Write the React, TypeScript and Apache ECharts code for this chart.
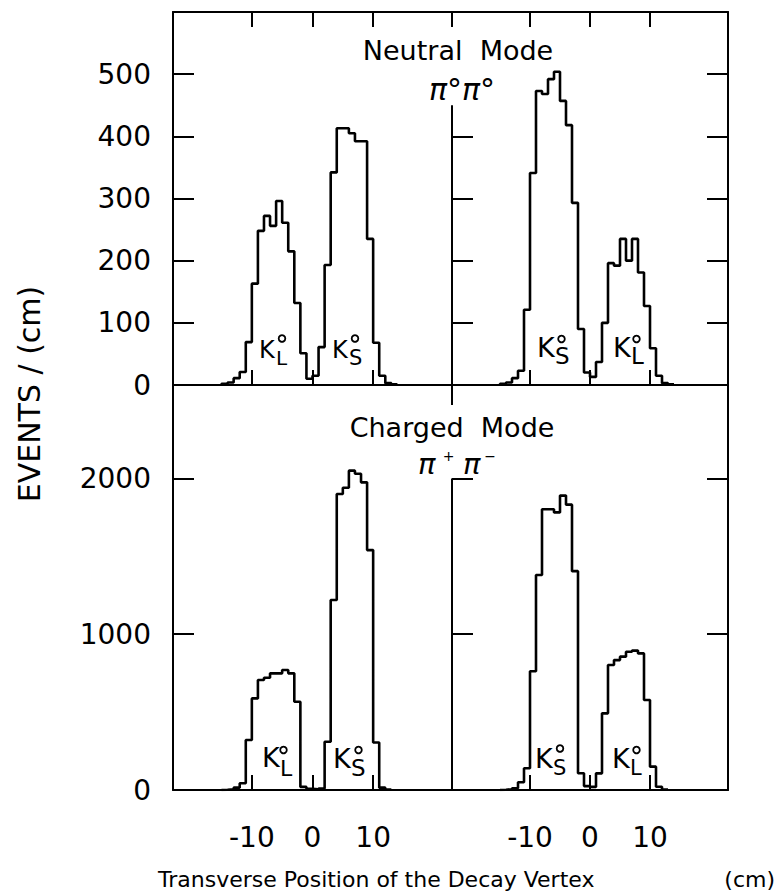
import React, { useEffect, useRef } from "react";
import * as echarts from "echarts";

// ---------- data (events per 1 cm bin) ----------
const BIN_WIDTH = 1; // cm
const X_MIN = -23;
const X_MAX = 23;
const xTickValues = [-10, 0, 10];
const neutralTickValues = [0, 100, 200, 300, 400, 500];
const chargedTickValues = [0, 1000, 2000];
const NEUTRAL_MAX = 600;
const CHARGED_MAX = 2600;

const neutralLeftStart = -15;
const neutralLeftCounts = [2, 4, 11, 21, 69, 163, 248, 272, 256, 296, 261, 215, 132, 51, 10, 15, 61, 193, 342, 413, 413, 405, 392, 392, 235, 68, 15, 3, 1];
const neutralRightStart = -15;
const neutralRightCounts = [2, 4, 11, 23, 121, 341, 473, 468, 492, 504, 457, 418, 293, 90, 20, 13, 37, 100, 196, 192, 235, 200, 235, 181, 127, 59, 15, 3, 1];
const chargedLeftStart = -15;
const chargedLeftCounts = [2, 5, 15, 43, 321, 588, 706, 721, 749, 749, 770, 749, 567, 20, 8, 5, 10, 310, 1220, 1900, 1940, 2050, 2030, 1975, 1540, 305, 15, 3];
const chargedRightStart = -15;
const chargedRightCounts = [2, 5, 11, 50, 140, 762, 1380, 1802, 1802, 1782, 1890, 1832, 1405, 108, 25, 20, 107, 492, 802, 834, 856, 888, 895, 877, 578, 150, 21, 3];

// top of the central divider line in each panel (data units)
const neutralDividerTop = 450;
const chargedDividerTop = 2000;

// ---------- helpers ----------
const FONT = '"DejaVu Sans", sans-serif';
const BLACK = "#000";
const TICK_FONT = 28;

function stepPoints(start: number, counts: number[]): number[][] {
  const pts: number[][] = [[start, 0]];
  counts.forEach((c, i) => {
    const x0 = start + i * BIN_WIDTH;
    pts.push([x0, c], [x0 + BIN_WIDTH, c]);
  });
  pts.push([start + counts.length * BIN_WIDTH, 0]);
  return pts;
}

function xAxis(gridIndex: number, position: "top" | "bottom", ticks: number[], opts: any = {}) {
  return {
    type: "value",
    gridIndex,
    position,
    min: X_MIN,
    max: X_MAX,
    splitLine: { show: false },
    axisLine: { show: opts.line !== false, onZero: false, lineStyle: { color: BLACK, width: 2 } },
    axisTick: {
      show: ticks.length > 0,
      inside: true,
      length: opts.tickLength ?? 15,
      customValues: ticks,
      lineStyle: { color: BLACK, width: 2 },
    },
    axisLabel: opts.labels
      ? {
          show: true,
          customValues: xTickValues,
          formatter: (v: number) => String(v),
          color: BLACK,
          fontFamily: FONT,
          fontSize: TICK_FONT,
          margin: 33,
        }
      : { show: false },
  };
}

function yAxis(gridIndex: number, position: "left" | "right", max: number, ticks: number[], opts: any = {}) {
  return {
    type: "value",
    gridIndex,
    position,
    min: 0,
    max,
    interval: max === NEUTRAL_MAX ? 100 : 1000,
    splitLine: { show: false },
    axisLine: { show: opts.line !== false, onZero: false, lineStyle: { color: BLACK, width: 2 } },
    axisTick: {
      show: true,
      inside: true,
      length: 21,
      customValues: ticks,
      lineStyle: { color: BLACK, width: 2 },
    },
    axisLabel: opts.labels
      ? {
          show: true,
          customValues: opts.labels,
          formatter: (v: number) => String(v),
          color: BLACK,
          fontFamily: FONT,
          fontSize: TICK_FONT,
          margin: 22,
        }
      : { show: false },
  };
}

function histSeries(xi: number, yi: number, start: number, counts: number[], dividerTop?: number) {
  const s: any = {
    type: "line",
    xAxisIndex: xi,
    yAxisIndex: yi,
    data: stepPoints(start, counts),
    showSymbol: false,
    symbol: "none",
    lineStyle: { color: BLACK, width: 2.6 },
    z: 5,
    silent: true,
  };
  if (dividerTop !== undefined) {
    s.markLine = {
      silent: true,
      symbol: ["none", "none"],
      label: { show: false },
      lineStyle: { color: BLACK, width: 2, type: "solid" },
      data: [[{ coord: [X_MIN, 0] }, { coord: [X_MIN, dividerTop] }]],
    };
  }
  return s;
}

function text(t: string, x: number, y: number, size: number, align = "left", extra: any = {}) {
  return {
    type: "text",
    x,
    y,
    rotation: extra.rotation || 0,
    silent: true,
    z: 100,
    style: {
      text: t,
      fill: BLACK,
      fontSize: size,
      fontFamily: FONT,
      fontStyle: extra.italic ? "italic" : "normal",
      align,
      textAlign: align,
      verticalAlign: "middle",
      textVerticalAlign: "middle",
    },
  };
}

function kLabel(k: number[], deg: number[], sub: [string, number, number, number]) {
  return [
    text("K", k[0], k[1], k[2]),
    {
      type: "circle",
      silent: true,
      z: 100,
      shape: { cx: deg[0], cy: deg[1], r: 3.3 },
      style: { fill: "none", stroke: BLACK, lineWidth: 1.8 },
    },
    text(sub[0], sub[1], sub[2], sub[3]),
  ];
}

export default function App() {
  const ref = useRef<HTMLDivElement>(null);

  useEffect(() => {
    if (!ref.current) return;
    const chart = echarts.init(ref.current, null, { renderer: "svg" });

    const graphic: any[] = [
      text("Neutral  Mode", 458, 50, 27, "center"),
      text("π°π°", 462, 89, 30, "center", { italic: true }),
      text("Charged  Mode", 452, 427, 27, "center"),
      text("π", 418, 464, 29, "left", { italic: true }),
      text("+", 448.5, 456, 14, "center"),
      text("π", 463, 464, 29, "left", { italic: true }),
      text("−", 490, 456, 14, "center"),
      text("EVENTS / (cm)", 29.5, 394, 30, "center", { rotation: Math.PI / 2 }),
      text("Transverse Position of the Decay Vertex", 158, 879, 22, "left"),
      text("(cm)", 775, 879, 22, "right"),
      ...kLabel([259, 350, 24], [282, 338.5], ["L", 276, 358, 20]),
      ...kLabel([332, 350, 24], [355, 338.5], ["S", 349, 357.5, 21]),
      ...kLabel([537, 347.5, 27], [561.5, 339], ["S", 555, 356, 23]),
      ...kLabel([613, 347.5, 27], [636.5, 339], ["L", 631, 356, 23]),
      ...kLabel([262, 757.5, 27], [283.5, 750], ["L", 280, 768.5, 22]),
      ...kLabel([333, 758, 27], [358.5, 750], ["S", 351, 767.5, 23]),
      ...kLabel([535, 758.5, 27], [560, 748.5], ["S", 553, 767.5, 21]),
      ...kLabel([612, 758.5, 27], [636.5, 750], ["L", 630, 767.5, 21]),
    ];

    chart.setOption({
      animation: false,
      backgroundColor: "#fff",
      grid: [
        { left: 173, top: 12, width: 279, height: 373 },
        { left: 452, top: 12, width: 276, height: 373 },
        { left: 173, top: 385, width: 279, height: 405 },
        { left: 452, top: 385, width: 276, height: 405 },
      ],
      xAxis: [
        xAxis(0, "bottom", xTickValues),
        xAxis(0, "top", xTickValues),
        xAxis(1, "bottom", xTickValues),
        xAxis(1, "top", [X_MIN, ...xTickValues]),
        xAxis(2, "bottom", xTickValues, { labels: true }),
        xAxis(2, "top", []),
        xAxis(3, "bottom", xTickValues, { labels: true }),
        xAxis(3, "top", [X_MIN], { tickLength: 20 }),
      ],
      yAxis: [
        yAxis(0, "left", NEUTRAL_MAX, neutralTickValues.slice(1), { labels: neutralTickValues }),
        yAxis(1, "left", NEUTRAL_MAX, neutralTickValues.slice(1, 5), { line: false }),
        yAxis(1, "right", NEUTRAL_MAX, neutralTickValues.slice(1)),
        yAxis(2, "left", CHARGED_MAX, chargedTickValues.slice(1), { labels: chargedTickValues }),
        yAxis(3, "left", CHARGED_MAX, chargedTickValues.slice(1), { line: false }),
        yAxis(3, "right", CHARGED_MAX, chargedTickValues.slice(1)),
      ],
      series: [
        histSeries(0, 0, neutralLeftStart, neutralLeftCounts),
        histSeries(2, 1, neutralRightStart, neutralRightCounts, neutralDividerTop),
        histSeries(4, 3, chargedLeftStart, chargedLeftCounts),
        histSeries(6, 4, chargedRightStart, chargedRightCounts, chargedDividerTop),
      ],
      graphic,
    });

    return () => chart.dispose();
  }, []);

  return (
    <div
      ref={ref}
      style={{ position: "absolute", left: 0, top: 0, width: 778, height: 895, background: "#fff" }}
    />
  );
}
